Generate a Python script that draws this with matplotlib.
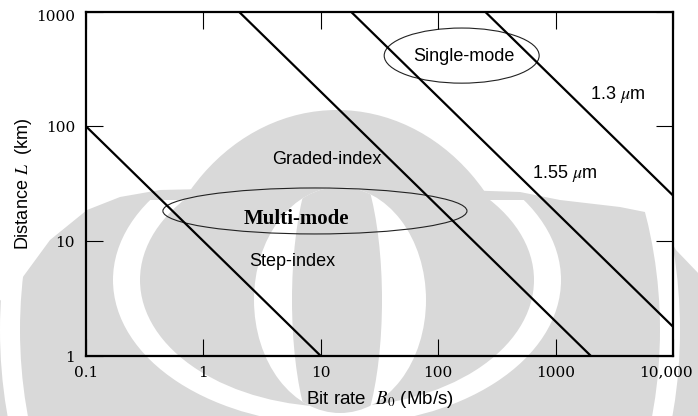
import matplotlib
matplotlib.use("Agg")
import matplotlib.pyplot as plt
from matplotlib.patches import Ellipse, Polygon, Rectangle
from matplotlib.ticker import NullLocator
from matplotlib.transforms import ScaledTranslation
import numpy as np

plt.rcParams['mathtext.fontset'] = 'stix'

# Bit-rate x distance products (Mb/s * km) for each fibre type
fiber_names = ["Step-index", "Graded-index", "1.55 um", "1.3 um"]
bl_products = [10.0, 2000.0, 18000.0, 250000.0]

# Axis ranges and tick labels
x_range = [0.1, 10000.0]
y_range = [1.0, 1000.0]
x_ticks = [0.1, 1, 10, 100, 1000, 10000]
x_tick_labels = ["0.1", "1", "10", "100", "1000", "10,000"]
y_ticks = [1, 10, 100, 1000]
y_tick_labels = ["1", "10", "100", "1000"]

W, H = 698, 416
fig = plt.figure(figsize=(W / 100, H / 100), dpi=100)
fig.patch.set_facecolor("white")

# ---- faint background emblem, drawn in pixel units ----
bg = fig.add_axes([0, 0, 1, 1])
bg.set_xlim(0, W)
bg.set_ylim(H, 0)
bg.axis("off")
GRAY = "#d9d9d9"

outer_top = [(-10, 310), (17, 285), (50, 240), (87, 210), (120, 197),
             (160, 190), (337, 186), (520, 192), (560, 200), (620, 207),
             (655, 214), (676, 250), (700, 275)]
bg.add_patch(Polygon(outer_top + [(710, 430), (-10, 430)], closed=True,
                     fc=GRAY, ec="none"))

lower = Rectangle((-20, 200), 760, 260, transform=bg.transData)
upper = Rectangle((-20, -10), 760, 210, transform=bg.transData)

ring_a = Ellipse((340, 330), 660, 800, fill=False, ec="white", lw=20 * 0.72)
bg.add_patch(ring_a)
ring_a.set_clip_path(lower)

ring_b_out = Ellipse((337, 280), 448, 290, fc="white", ec="none")
bg.add_patch(ring_b_out)
ring_b_out.set_clip_path(lower)
bg.add_patch(Ellipse((337, 280), 394, 254, fc=GRAY, ec="none"))

dome = Ellipse((337, 330), 380, 440, fc=GRAY, ec="none")
bg.add_patch(dome)
dome.set_clip_path(upper)

lens = Ellipse((340, 300), 172, 226, fc="white", ec="none")
bg.add_patch(lens)
lens_core = Ellipse((337, 300), 90, 318, fc=GRAY, ec="none")
bg.add_patch(lens_core)
lens_core.set_clip_path(lens)

# ---- main log-log chart ----
ax = fig.add_axes([86 / W, 1 - 356 / H, 587 / W, 344.5 / H])
ax.set_zorder(1)
ax.patch.set_visible(False)
ax.set_xscale("log")
ax.set_yscale("log")
ax.set_xlim(*x_range)
ax.set_ylim(*y_range)

for bl in bl_products:
    b_lo = max(x_range[0], bl / y_range[1])
    b_hi = min(x_range[1], bl / y_range[0])
    b = np.array([b_lo, b_hi])
    ax.plot(b, bl / b, color="black", lw=1.6, solid_capstyle="butt")

ax.set_xticks(x_ticks)
ax.set_xticklabels(x_tick_labels)
ax.set_yticks(y_ticks)
ax.set_yticklabels(y_tick_labels)
ax.xaxis.set_minor_locator(NullLocator())
ax.yaxis.set_minor_locator(NullLocator())
ax.tick_params(which="major", direction="in", length=12, width=0.8,
               top=True, right=True, color="black")
ax.tick_params(axis="x", pad=7)
ax.tick_params(axis="y", pad=8)
for lab in ax.get_xticklabels() + ax.get_yticklabels():
    lab.set_fontfamily("DejaVu Serif")
    lab.set_fontsize(11)

# nudge the end labels inward so they sit inside the figure
last_x = ax.get_xticklabels()[-1]
last_x.set_transform(last_x.get_transform()
                     + ScaledTranslation(-7 / 100, 0, fig.dpi_scale_trans))
top_y = ax.get_yticklabels()[-1]
top_y.set_transform(top_y.get_transform()
                    + ScaledTranslation(0, -4 / 100, fig.dpi_scale_trans))

for sp in ax.spines.values():
    sp.set_linewidth(1.6)

sans = "Liberation Sans"
ax.set_ylabel("Distance $L$  (km)", fontfamily=sans, fontsize=13, va="center")
ax.yaxis.set_label_coords((24 - 86) / 587, 0.5)
ax.set_xlabel("Bit rate  $B_0$ (Mb/s)", fontfamily=sans, fontsize=13.5, va="center")
ax.xaxis.set_label_coords(0.5, (356 - 400) / 344.5)

# region labels
ax.text(0.411, 0.569, "Graded-index", transform=ax.transAxes, fontfamily=sans,
        fontsize=13, ha="center", va="center")
ax.text(0.351, 0.273, "Step-index", transform=ax.transAxes, fontfamily=sans,
        fontsize=13, ha="center", va="center")
ax.text(0.359, 0.397, "Multi-mode", transform=ax.transAxes,
        fontfamily="Liberation Serif", fontweight="bold", fontsize=15,
        ha="center", va="center")
ax.text(0.644, 0.868, "Single-mode", transform=ax.transAxes, fontfamily=sans,
        fontsize=13, ha="center", va="center")
ax.text(0.905, 0.758, r"1.3 $\mu$m", transform=ax.transAxes, fontfamily=sans,
        fontsize=13, ha="center", va="center")
ax.text(0.816, 0.531, r"1.55 $\mu$m", transform=ax.transAxes, fontfamily=sans,
        fontsize=13, ha="center", va="center")

# grouping ellipses
ax.add_patch(Ellipse((0.390, 0.421), 0.518, 0.1335, transform=ax.transAxes,
                     fill=False, ec="#222222", lw=0.8))
ax.add_patch(Ellipse((0.640, 0.872), 0.264, 0.160, transform=ax.transAxes,
                     fill=False, ec="#222222", lw=0.8))

fig.savefig("out.png", dpi=100)
